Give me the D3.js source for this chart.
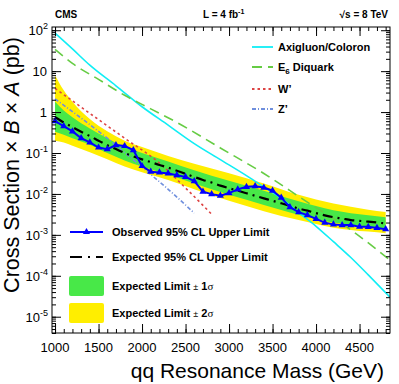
<!DOCTYPE html>
<html>
<head>
<meta charset="utf-8">
<script src="https://cdn.jsdelivr.net/npm/d3@7"></script>
<style>
  body { margin: 0; background: #fff; }
  text { font-family: "Liberation Sans", Arial, sans-serif; }
</style>
</head>
<body>
<script>
// limit points, 1.0 - 4.8 TeV in 100 GeV steps
const masses = d3.range(1000, 4801, 100);
const observed = [0.60, 0.455, 0.337, 0.231, 0.181, 0.136, 0.124, 0.156, 0.148, 0.118,
  0.048, 0.035, 0.0336, 0.0317, 0.0288, 0.026, 0.0206, 0.0114, 0.0099, 0.0091,
  0.0105, 0.0129, 0.0149, 0.0155, 0.0143, 0.0120, 0.0081, 0.00475, 0.00359, 0.00303,
  0.00246, 0.00199, 0.00180, 0.00173, 0.00173, 0.00158, 0.00157, 0.00148, 0.00138];
const expected = [0.75, 0.56, 0.43, 0.33, 0.26, 0.20, 0.155, 0.125, 0.10, 0.083,
  0.070, 0.060, 0.051, 0.044, 0.037, 0.031, 0.026, 0.022, 0.019, 0.016,
  0.0138, 0.0120, 0.0104, 0.0090, 0.0078, 0.0068, 0.0059, 0.0051, 0.0044, 0.0039,
  0.0034, 0.0030, 0.0027, 0.0025, 0.0023, 0.0022, 0.0021, 0.0020, 0.0019];

// +-1 and +-2 sigma bands
const bandMass = [1000, 1100, 1200, 1400, 1600, 1800, 2000, 2300, 2600, 3000, 3400, 3800, 4200, 4600, 4800];
const exp2Hi = [8.0, 3.4, 1.8, 0.68, 0.34, 0.20, 0.14, 0.085, 0.055, 0.032, 0.018, 0.0095, 0.0058, 0.0041, 0.0036];
const exp1Hi = [1.8, 1.1, 0.75, 0.40, 0.23, 0.14, 0.10, 0.062, 0.038, 0.021, 0.012, 0.0066, 0.0040, 0.0030, 0.0027];
const exp1Lo = [0.33, 0.28, 0.23, 0.16, 0.10, 0.066, 0.047, 0.030, 0.018, 0.0095, 0.0054, 0.0031, 0.0020, 0.0016, 0.0014];
const exp2Lo = [0.20, 0.18, 0.15, 0.105, 0.07, 0.047, 0.034, 0.022, 0.013, 0.0068, 0.0038, 0.0023, 0.0015, 0.0012, 0.0011];

// model predictions
const axiMass = [1000, 1200, 1400, 1700, 2000, 2300, 2600, 2900, 3200, 3400, 3600, 3800, 4000, 4200, 4400, 4600, 4850];
const axiXsec = [85, 35, 14, 4.4, 1.35, 0.48, 0.17, 0.069, 0.028, 0.0148, 0.0078, 0.0035, 0.00162, 6.8e-4, 2.8e-4, 1.05e-4, 3.0e-5];
const diqMass = [1000, 1200, 1500, 1800, 2100, 2400, 2900, 3400, 3900, 4400, 4850];
const diqXsec = [34, 15.5, 6.3, 2.57, 1.2, 0.56, 0.133, 0.0316, 0.0063, 0.00132, 2.4e-4];
const wpMass = [1000, 1400, 1800, 2200, 2500, 2800];
const wpXsec = [3.8, 0.93, 0.23, 0.057, 0.014, 0.0032];
const zpMass = [1000, 1600, 2000, 2300, 2600];
const zpXsec = [2.1, 0.23, 0.045, 0.013, 0.0034];

const xTicks = [1000, 1500, 2000, 2500, 3000, 3500, 4000, 4500];
const yTicks = [1e-5, 1e-4, 1e-3, 1e-2, 1e-1, 1, 10, 100];
const yLabels = ['10|-5', '10|-4', '10|-3', '10|-2', '10|-1', '1', '10', '10|2'];

const W = 399, H = 384;
const L = 52, R = 390, T = 27, B = 333;

const svg = d3.select('body').append('svg')
  .attr('width', W)
  .attr('height', H);

const x = d3.scaleLinear().domain([965, 4850]).range([L, R]);
const y = d3.scaleLog().domain([4e-6, 120]).range([B, T]);

svg.append('clipPath').attr('id', 'frame')
  .append('rect').attr('x', L).attr('y', T).attr('width', R - L).attr('height', B - T);

const plot = svg.append('g').attr('clip-path', 'url(#frame)');

function band(lo, hi, color) {
  const pts = bandMass.map((m, i) => ({m: m, lo: lo[i], hi: hi[i]}));
  plot.append('path')
    .datum(pts)
    .attr('fill', color)
    .attr('d', d3.area()
      .x(d => x(d.m))
      .y0(d => y(d.lo))
      .y1(d => y(d.hi))
      .curve(d3.curveMonotoneX));
}
band(exp2Lo, exp2Hi, '#ffee00');
band(exp1Lo, exp1Hi, '#48e848');

function curve(ms, vs, color, dash, width) {
  plot.append('path')
    .datum(ms.map((m, i) => [m, vs[i]]))
    .attr('fill', 'none')
    .attr('stroke', color)
    .attr('stroke-width', width)
    .attr('stroke-dasharray', dash)
    .attr('d', d3.line()
      .x(d => x(d[0]))
      .y(d => y(d[1]))
      .curve(d3.curveMonotoneX));
}
curve(axiMass, axiXsec, '#10eef5', null, 1.6);
curve(diqMass, diqXsec, '#66cc44', '10,6', 1.6);
curve(wpMass, wpXsec, '#dd4444', '2.5,3', 1.6);
curve(zpMass, zpXsec, '#6f8fdd', '4,2,1,2', 1.6);

// expected limit
plot.append('path')
  .datum(masses.map((m, i) => [m, expected[i]]))
  .attr('fill', 'none')
  .attr('stroke', '#000')
  .attr('stroke-width', 2.2)
  .attr('stroke-dasharray', '10,5,2,5')
  .attr('d', d3.line().x(d => x(d[0])).y(d => y(d[1])).curve(d3.curveMonotoneX));

// observed limit
plot.append('path')
  .datum(masses.map((m, i) => [m, observed[i]]))
  .attr('fill', 'none')
  .attr('stroke', '#0000ff')
  .attr('stroke-width', 2)
  .attr('d', d3.line().x(d => x(d[0])).y(d => y(d[1])));

const tri = d3.symbol().type(d3.symbolTriangle).size(22);
plot.selectAll('.obs')
  .data(masses.map((m, i) => [m, observed[i]]))
  .join('path')
  .attr('class', 'obs')
  .attr('fill', '#0000ff')
  .attr('transform', d => 'translate(' + x(d[0]) + ',' + y(d[1]) + ')')
  .attr('d', tri);

// axes, ticks inside the frame
const minorX = d3.range(1000, 4851, 100);
const minorY = [];
for (let e = -6; e <= 2; e++) {
  for (let k = 1; k < 10; k++) {
    const v = k * Math.pow(10, e);
    if (v >= 4e-6 && v <= 120) minorY.push(v);
  }
}

function axisG(axis, tx, ty) {
  const g = svg.append('g')
    .attr('transform', 'translate(' + tx + ',' + ty + ')')
    .call(axis);
  g.select('.domain').remove();
  g.selectAll('line').attr('stroke', '#000');
  return g;
}
axisG(d3.axisBottom(x).tickValues(minorX).tickSize(-4).tickFormat(''), 0, B);
axisG(d3.axisBottom(x).tickValues(xTicks).tickSize(-9).tickFormat(''), 0, B);
axisG(d3.axisTop(x).tickValues(minorX).tickSize(-4).tickFormat(''), 0, T);
axisG(d3.axisTop(x).tickValues(xTicks).tickSize(-9).tickFormat(''), 0, T);
axisG(d3.axisLeft(y).tickValues(minorY).tickSize(-4).tickFormat(''), L, 0);
axisG(d3.axisLeft(y).tickValues(yTicks).tickSize(-9).tickFormat(''), L, 0);
axisG(d3.axisRight(y).tickValues(minorY).tickSize(-4).tickFormat(''), R, 0);
axisG(d3.axisRight(y).tickValues(yTicks).tickSize(-9).tickFormat(''), R, 0);

svg.append('rect')
  .attr('x', L).attr('y', T)
  .attr('width', R - L).attr('height', B - T)
  .attr('fill', 'none')
  .attr('stroke', '#000')
  .attr('stroke-width', 1);

// tick labels
svg.selectAll('.xl')
  .data(xTicks)
  .join('text')
  .attr('class', 'xl')
  .attr('x', d => x(d))
  .attr('y', 352)
  .attr('text-anchor', 'middle')
  .attr('font-size', 13)
  .text(d => d);

yTicks.forEach((v, i) => {
  const parts = yLabels[i].split('|');
  const t = svg.append('text')
    .attr('x', parts.length > 1 ? 48 : 47)
    .attr('y', y(v) + 5)
    .attr('text-anchor', 'end')
    .attr('font-size', 13);
  t.append('tspan').text(parts[0]);
  if (parts.length > 1) {
    t.append('tspan').attr('font-size', 9).attr('dy', -6).text(parts[1]);
  }
});

// axis titles
svg.append('text')
  .attr('x', 384)
  .attr('y', 378)
  .attr('text-anchor', 'end')
  .attr('font-size', 21)
  .text('qq Resonance Mass (GeV)');

const yt = svg.append('text')
  .attr('transform', 'translate(19,165) rotate(-90)')
  .attr('text-anchor', 'middle')
  .attr('font-size', 21.5);
yt.append('tspan').text('Cross Section \u00d7 ');
yt.append('tspan').attr('font-style', 'italic').text('B');
yt.append('tspan').text(' \u00d7 ');
yt.append('tspan').attr('font-style', 'italic').text('A');
yt.append('tspan').text(' (pb)');

// header
svg.append('text').attr('x', 55).attr('y', 18).attr('font-size', 10).attr('font-weight', 'bold').text('CMS');
const lum = svg.append('text').attr('x', 203).attr('y', 18).attr('font-size', 10).attr('font-weight', 'bold');
lum.append('tspan').text('L = 4 fb');
lum.append('tspan').attr('font-size', 7).attr('dy', -4).text('-1');
svg.append('text').attr('x', 388).attr('y', 18).attr('text-anchor', 'end')
  .attr('font-size', 10).attr('font-weight', 'bold').text('\u221as = 8 TeV');

// model legend
const modelLeg = [
  {label: 'Axigluon/Coloron', color: '#10eef5', dash: null, y: 47},
  {label: 'E|6| Diquark', color: '#66cc44', dash: '10,6', y: 67},
  {label: 'W\u2019', color: '#dd4444', dash: '2.5,3', y: 89},
  {label: 'Z\u2019', color: '#6f8fdd', dash: '4,2,1,2', y: 109}
];
modelLeg.forEach(d => {
  svg.append('line')
    .attr('x1', 252).attr('x2', 273)
    .attr('y1', d.y).attr('y2', d.y)
    .attr('stroke', d.color)
    .attr('stroke-width', 1.8)
    .attr('stroke-dasharray', d.dash);
  const t = svg.append('text')
    .attr('x', 278).attr('y', d.y + 4)
    .attr('font-size', 11).attr('font-weight', 'bold');
  const p = d.label.split('|');
  t.append('tspan').text(p[0]);
  if (p.length > 1) {
    t.append('tspan').attr('font-size', 8).attr('dy', 3).text(p[1]);
    t.append('tspan').attr('dy', -3).text(p[2]);
  }
});

// limit legend
svg.append('line').attr('x1', 70).attr('x2', 103).attr('y1', 232).attr('y2', 232)
  .attr('stroke', '#0000ff').attr('stroke-width', 2);
svg.append('path').attr('fill', '#0000ff').attr('transform', 'translate(86.5,232)').attr('d', tri);
svg.append('text').attr('x', 112).attr('y', 236).attr('font-size', 11).attr('font-weight', 'bold')
  .text('Observed 95% CL Upper Limit');

svg.append('line').attr('x1', 70).attr('x2', 103).attr('y1', 257).attr('y2', 257)
  .attr('stroke', '#000').attr('stroke-width', 2.2).attr('stroke-dasharray', '12,6,2,6');
svg.append('text').attr('x', 112).attr('y', 261).attr('font-size', 11).attr('font-weight', 'bold')
  .text('Expected 95% CL Upper Limit');

[{c: '#48e848', y: 276, s: '1'}, {c: '#ffee00', y: 303, s: '2'}].forEach(d => {
  svg.append('rect').attr('x', 69).attr('y', d.y).attr('width', 35).attr('height', 20)
    .attr('rx', 2).attr('fill', d.c);
  const t = svg.append('text').attr('x', 112).attr('y', d.y + 14)
    .attr('font-size', 11).attr('font-weight', 'bold');
  t.append('tspan').text('Expected Limit ');
  t.append('tspan').attr('font-weight', 'normal').attr('font-size', 9).text('\u00b1');
  t.append('tspan').text(' ' + d.s);
  t.append('tspan').attr('font-family', 'serif').attr('font-weight', 'normal').text('\u03c3');
});
</script>
</body>
</html>
